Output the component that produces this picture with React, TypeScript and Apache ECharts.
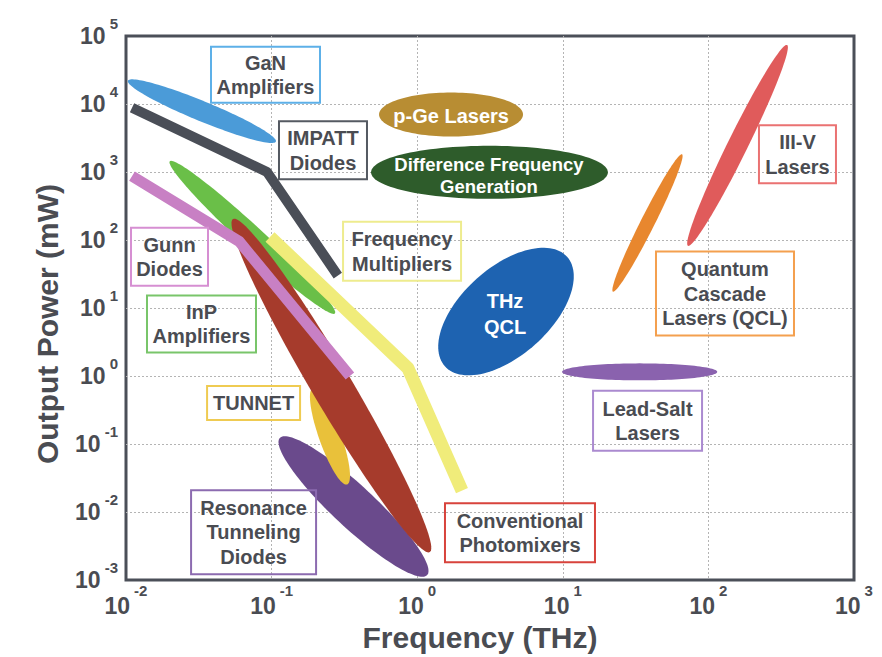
import React, { useEffect, useRef } from 'react';
import * as echarts from 'echarts';

// ---- tick labels (exponents of 10) ----
const X_TICK_EXPONENTS = ['-2', '-1', '0', '1', '2', '3'];
const Y_TICK_EXPONENTS = ['-3', '-2', '-1', '0', '1', '2', '3', '4', '5'];

// ---- ellipse bands: the two ends of the long axis, [frequency THz, power mW] ----
const GAN_AMPLIFIERS = [[0.0103, 22000], [0.107, 2800]];
const INP_AMPLIFIERS = [[0.02, 1440], [0.272, 8.3]];
const RESONANCE_TUNNELING_DIODES = [[0.114, 0.123], [1.17, 0.00118]];
const TUNNET_BAND = [[0.192, 0.665], [0.33, 0.0254]];
const CONVENTIONAL_PHOTOMIXERS = [[0.0543, 204], [1.22, 0.00257]];
const P_GE_LASERS = [[0.547, 7000], [5.33, 7000]];
const DIFFERENCE_FREQUENCY_GENERATION = [[0.482, 990], [20.4, 990]];
const THZ_QCL = [[1.55, 1.39], [10.7, 56.6]];
const QUANTUM_CASCADE_LASERS = [[22.1, 17.4], [65.9, 1820]];
const III_V_LASERS = [[72.4, 82], [347, 73800]];
const LEAD_SALT_LASERS = [[9.88, 1.15], [115, 1.15]];

// ---- polyline bands ----
const IMPATT_DIODES = [[0.011, 8800], [0.093, 1000], [0.285, 30]];
const GUNN_DIODES = [[0.011, 870], [0.06, 95], [0.345, 1.0]];
const FREQUENCY_MULTIPLIERS = [[0.0975, 111], [0.865, 1.3], [2.03, 0.0207]];

// ---- boxed labels: centre position in data units ----
const LABEL_TEXTS = [
  'GaN\nAmplifiers',
  'IMPATT\nDiodes',
  'Gunn\nDiodes',
  'InP\nAmplifiers',
  'Frequency\nMultipliers',
  'TUNNET',
  'Resonance\nTunneling\nDiodes',
  'Conventional\nPhotomixers',
  'Lead-Salt\nLasers',
  'Quantum\nCascade\nLasers (QCL)',
  'III-V\nLasers',
];
const LABEL_FREQ = [0.0908, 0.2254, 0.0199, 0.033, 0.787, 0.0752, 0.0752, 5.08, 38.2, 130, 409];
const LABEL_POWER = [26900, 2080, 56.6, 5.83, 68.2, 0.401, 0.00504, 0.00495, 0.219, 16.3, 1820];

// ---- labels written inside ellipses ----
const INNER_TEXTS = ['p-Ge Lasers', 'Difference Frequency\nGeneration', 'THz\nQCL'];
const INNER_FREQ = [1.71, 3.11, 4.01];
const INNER_POWER = [6760, 881, 8.04];

// ---- styles (kept apart from the data) ----
const FONT = '"Liberation Sans", Arial, Helvetica, sans-serif';
const TEXT_COLOR = '#4a4c52';
const LABEL_BOX_W = [109, 88, 77, 109, 118, 93, 125, 150, 109, 138, 77];
const LABEL_BOX_H = [56, 58, 58, 57, 59, 34, 84, 59, 60, 84, 58];
const LABEL_BORDER = ['#5db0e8', '#555a62', '#d68fd2', '#79c56a', '#eeec8e', '#efcb52', '#8c6bb0', '#d8433c', '#ab8ad0', '#f4a04e', '#ea7272'];
const INNER_FONT_SIZE = [20, 18.5, 20];
const INNER_LINE_HEIGHT = [22, 22, 26];

function ellipseSeries(name: string, ends: number[][], width: number, color: string, z: number) {
  return {
    type: 'custom',
    name,
    z,
    silent: true,
    clip: false,
    data: [[ends[0][0], ends[0][1], ends[1][0], ends[1][1]]],
    encode: { x: [0, 2], y: [1, 3] },
    renderItem: (params: any, api: any) => {
      const p1 = api.coord([api.value(0), api.value(1)]);
      const p2 = api.coord([api.value(2), api.value(3)]);
      const cx = (p1[0] + p2[0]) / 2;
      const cy = (p1[1] + p2[1]) / 2;
      const dx = p2[0] - p1[0];
      const dy = p2[1] - p1[1];
      const len = Math.hypot(dx, dy);
      const ux = dx / len;
      const uy = dy / len;
      const vx = -uy;
      const vy = ux;
      const a = len / 2;
      const b = width / 2;
      const pts: number[][] = [];
      const n = 120;
      for (let i = 0; i < n; i++) {
        const t = (i / n) * Math.PI * 2;
        const c = Math.cos(t);
        const s = Math.sin(t);
        pts.push([cx + ux * a * c + vx * b * s, cy + uy * a * c + vy * b * s]);
      }
      return { type: 'polygon', shape: { points: pts }, style: { fill: color } };
    },
  };
}

function lineSeries(name: string, pts: number[][], width: number, color: string, z: number) {
  return {
    type: 'line',
    name,
    z,
    silent: true,
    symbol: 'none',
    data: pts,
    lineStyle: { width, color, cap: 'butt', join: 'round' },
  };
}

export default function App() {
  const ref = useRef<HTMLDivElement>(null);

  useEffect(() => {
    if (!ref.current) return;
    const chart = echarts.init(ref.current, undefined, { renderer: 'svg' });

    // "10" centred in a tall line box, exponent pinned to the top of the box
    const richLabel = (size: number, supSize: number, boxHeight: number) => ({
      b: {
        fontSize: size,
        fontWeight: 'bold',
        fontFamily: FONT,
        color: TEXT_COLOR,
        lineHeight: boxHeight,
        verticalAlign: 'middle',
      },
      s: {
        fontSize: supSize,
        fontWeight: 'bold',
        fontFamily: FONT,
        color: TEXT_COLOR,
        lineHeight: supSize,
        verticalAlign: 'top',
        padding: [0, 0, 0, 4],
      },
    });

    const labelData = LABEL_TEXTS.map((_, i) => [LABEL_FREQ[i], LABEL_POWER[i]]);
    const innerData = INNER_TEXTS.map((_, i) => [INNER_FREQ[i], INNER_POWER[i]]);

    const option: any = {
      animation: false,
      backgroundColor: '#ffffff',
      grid: {
        left: 126,
        top: 36,
        width: 728,
        height: 547,
        show: true,
        borderColor: '#4b4f58',
        borderWidth: 3,
        backgroundColor: 'transparent',
      },
      xAxis: {
        type: 'log',
        logBase: 10,
        min: 0.01,
        max: 1000,
        splitNumber: 5,
        axisLine: { show: false },
        axisTick: { show: false },
        minorTick: { show: false },
        splitLine: {
          show: true,
          showMinLine: false,
          showMaxLine: false,
          lineStyle: { color: '#b4b4b4', width: 1, type: [2, 2] },
        },
        axisLabel: {
          margin: 3,
          formatter: (v: number, i: number) => `{b|10}{s|${X_TICK_EXPONENTS[i] ?? ''}}`,
          rich: richLabel(23, 15, 45),
        },
        name: 'Frequency (THz)',
        nameLocation: 'middle',
        nameGap: 42,
        nameTextStyle: {
          fontSize: 30,
          fontWeight: 'bold',
          fontFamily: FONT,
          color: TEXT_COLOR,
          padding: [0, 20, 0, 0],
        },
      },
      yAxis: {
        type: 'log',
        logBase: 10,
        min: 0.001,
        max: 100000,
        splitNumber: 8,
        axisLine: { show: false },
        axisTick: { show: false },
        minorTick: { show: false },
        splitLine: {
          show: true,
          showMinLine: false,
          showMaxLine: false,
          lineStyle: { color: '#b4b4b4', width: 1, type: [2, 2] },
        },
        axisLabel: {
          margin: 8,
          formatter: (v: number, i: number) => `{b|10}{s|${Y_TICK_EXPONENTS[i] ?? ''}}`,
          rich: richLabel(23, 15, 40),
        },
        name: 'Output Power (mW)',
        nameLocation: 'middle',
        nameGap: 64,
        nameTextStyle: {
          fontSize: 30,
          fontWeight: 'bold',
          fontFamily: FONT,
          color: TEXT_COLOR,
          padding: [0, 32, 0, 0],
        },
      },
      series: [
        ellipseSeries('GaN Amplifiers', GAN_AMPLIFIERS, 20, '#4b9bd8', 2),
        lineSeries('IMPATT Diodes', IMPATT_DIODES, 10, '#4a4e57', 3),
        ellipseSeries('InP Amplifiers', INP_AMPLIFIERS, 22, '#6abf48', 4),
        ellipseSeries('Resonance Tunneling Diodes', RESONANCE_TUNNELING_DIODES, 42, '#6a4a8c', 5),
        ellipseSeries('TUNNET', TUNNET_BAND, 22, '#e9c13a', 6),
        ellipseSeries('Conventional Photomixers', CONVENTIONAL_PHOTOMIXERS, 40, '#a63b2c', 7),
        lineSeries('Gunn Diodes', GUNN_DIODES, 11, '#c880c4', 8),
        lineSeries('Frequency Multipliers', FREQUENCY_MULTIPLIERS, 13, '#f0ec7a', 9),
        ellipseSeries('p-Ge Lasers', P_GE_LASERS, 44, '#b88d33', 10),
        ellipseSeries('Difference Frequency Generation', DIFFERENCE_FREQUENCY_GENERATION, 53, '#2e5c2b', 11),
        ellipseSeries('THz QCL', THZ_QCL, 88, '#1e63b1', 12),
        ellipseSeries('Quantum Cascade Lasers', QUANTUM_CASCADE_LASERS, 14, '#e8872e', 13),
        ellipseSeries('III-V Lasers', III_V_LASERS, 20, '#e05b5b', 14),
        ellipseSeries('Lead-Salt Lasers', LEAD_SALT_LASERS, 17, '#8a62ae', 15),
        {
          type: 'custom',
          name: 'inner labels',
          z: 16,
          silent: true,
          clip: false,
          data: innerData,
          encode: { x: 0, y: 1 },
          renderItem: (params: any, api: any) => {
            const i = params.dataIndex;
            const p = api.coord([api.value(0), api.value(1)]);
            return {
              type: 'text',
              x: p[0],
              y: p[1],
              style: {
                text: INNER_TEXTS[i],
                fill: '#ffffff',
                fontSize: INNER_FONT_SIZE[i],
                fontWeight: 'bold',
                fontFamily: FONT,
                lineHeight: INNER_LINE_HEIGHT[i],
                align: 'center',
                verticalAlign: 'middle',
              },
            };
          },
        },
        {
          type: 'custom',
          name: 'box labels',
          z: 17,
          silent: true,
          clip: false,
          data: labelData,
          encode: { x: 0, y: 1 },
          renderItem: (params: any, api: any) => {
            const i = params.dataIndex;
            const p = api.coord([api.value(0), api.value(1)]);
            const w = LABEL_BOX_W[i];
            const h = LABEL_BOX_H[i];
            return {
              type: 'group',
              children: [
                {
                  type: 'rect',
                  shape: { x: p[0] - w / 2, y: p[1] - h / 2, width: w, height: h },
                  style: { fill: 'none', stroke: LABEL_BORDER[i], lineWidth: 2 },
                },
                {
                  type: 'text',
                  x: p[0],
                  y: p[1],
                  style: {
                    text: LABEL_TEXTS[i],
                    fill: TEXT_COLOR,
                    fontSize: 20,
                    fontWeight: 'bold',
                    fontFamily: FONT,
                    lineHeight: 24.5,
                    align: 'center',
                    verticalAlign: 'middle',
                  },
                },
              ],
            };
          },
        },
      ],
    };

    chart.setOption(option);
    return () => chart.dispose();
  }, []);

  return (
    <div
      ref={ref}
      style={{ position: 'fixed', left: 0, top: 0, width: 882, height: 657, background: '#fff' }}
    />
  );
}
